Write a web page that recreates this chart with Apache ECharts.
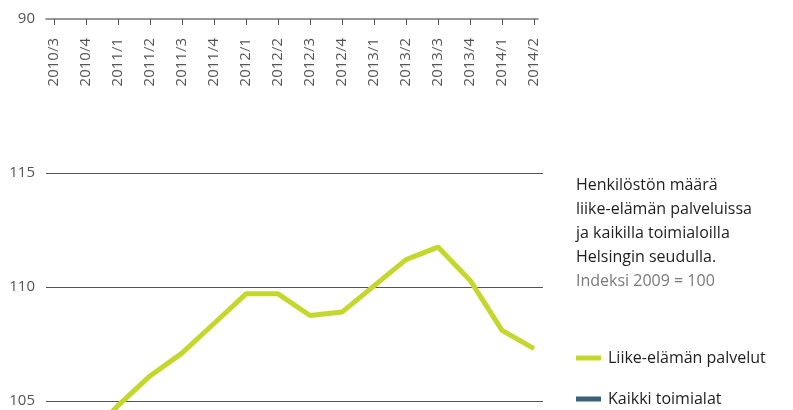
<!DOCTYPE html>
<html>
<head>
<meta charset="utf-8">
<script src="https://cdn.jsdelivr.net/npm/echarts@6/dist/echarts.min.js"></script>
<style>
  html, body { margin: 0; padding: 0; background: #fff; }
  #chart { width: 793px; height: 410px; }
</style>
</head>
<body>
<div id="chart"></div>
<script>
// Quarters on the horizontal axis
const quarters = ['2010/3', '2010/4', '2011/1', '2011/2', '2011/3', '2011/4',
  '2012/1', '2012/2', '2012/3', '2012/4', '2013/1', '2013/2', '2013/3',
  '2013/4', '2014/1', '2014/2'];

// Employment index, 2009 = 100
const liikeElamanPalvelut = [102.4, 103.3, 104.8, 106.1, 107.1, 108.4, 109.7,
  109.7, 108.75, 108.9, 110.05, 111.2, 111.75, 110.3, 108.1, 107.3];
const kaikkiToimialat = [100.5, 100.8, 100.3, 101.0, 101.4, 101.7, 101.1,
  101.5, 101.9, 101.4, 101.2, 101.6, 101.9, 101.4, 100.8, 101.2];

const seriesNames = ['Liike-elämän palvelut', 'Kaikki toimialat'];
const titleLines = ['Henkilöstön määrä', 'liike-elämän palveluissa',
  'ja kaikilla toimialoilla', 'Helsingin seudulla.'];
const subtitle = 'Indeksi 2009 = 100';

// Value ranges shown by the two panels
const lowerRange = { min: 90, max: 100, step: 10 };
const upperRange = { min: 105, max: 115, step: 5 };

const FONT = '"Open Sans", "Noto Sans", sans-serif';
const GREEN = '#c4d72c';
const BLUE = '#3b6079';

const chart = echarts.init(document.getElementById('chart'), null, { renderer: 'canvas' });

chart.setOption({
  animation: false,
  textStyle: { fontFamily: FONT },
  title: {
    text: titleLines.join('\n'),
    subtext: subtitle,
    left: 576,
    top: 173,
    itemGap: 0,
    padding: 0,
    textStyle: { fontFamily: FONT, fontSize: 16, fontWeight: 'normal', color: '#1e1e1e', lineHeight: 24 },
    subtextStyle: { fontFamily: FONT, fontSize: 16, color: '#7a7a7a', lineHeight: 24 }
  },
  legend: {
    data: seriesNames,
    orient: 'vertical',
    left: 576,
    top: 348,
    padding: 0,
    itemGap: 21,
    itemWidth: 25,
    itemHeight: 5,
    icon: 'rect',
    textStyle: { fontFamily: FONT, fontSize: 16, color: '#1e1e1e', lineHeight: 20, padding: [0, 0, 0, 2] }
  },
  grid: [
    // lower panel: axis line at 90
    { left: 46, right: 255, top: 0, bottom: 391 },
    // lower panel: category ticks and labels
    { left: 54, right: 259, top: 0, bottom: 391 },
    // upper panel: gridlines 105–115
    { left: 46, right: 250, top: 173, bottom: 9 },
    // upper panel: data lines
    { left: 54, right: 259, top: 173, bottom: 9 }
  ],
  xAxis: [
    {
      gridIndex: 0, type: 'category', data: quarters, boundaryGap: false,
      axisLine: { show: true, lineStyle: { color: '#777', width: 1.5 } },
      axisTick: { show: false }, axisLabel: { show: false }, splitLine: { show: false }
    },
    {
      gridIndex: 1, type: 'category', data: quarters, boundaryGap: false,
      axisLine: { show: false },
      axisTick: { show: true, length: 6, lineStyle: { color: '#555', width: 1 } },
      axisLabel: { rotate: 90, margin: 19, fontSize: 15, color: '#555', fontFamily: FONT, interval: 0 },
      splitLine: { show: false }
    },
    { gridIndex: 2, type: 'category', data: quarters, show: false },
    { gridIndex: 3, type: 'category', data: quarters, boundaryGap: false, show: false }
  ],
  yAxis: [
    {
      gridIndex: 0, type: 'value', min: lowerRange.min, max: lowerRange.max, interval: lowerRange.step,
      axisLine: { show: false }, axisTick: { show: false }, splitLine: { show: false },
      axisLabel: {
        showMaxLabel: false, showMinLabel: true, hideOverlap: false,
        formatter: (v) => (v === lowerRange.min ? String(v) : ''),
        margin: 11, fontSize: 15, color: '#555', fontFamily: FONT
      }
    },
    { gridIndex: 1, type: 'value', min: lowerRange.min, max: lowerRange.max, show: false },
    {
      gridIndex: 2, type: 'value', min: upperRange.min, max: upperRange.max, interval: upperRange.step,
      axisLine: { show: false }, axisTick: { show: false },
      splitLine: { show: true, lineStyle: { color: '#555', width: 1 } },
      axisLabel: { margin: 11, fontSize: 15, color: '#555', fontFamily: FONT }
    },
    { gridIndex: 3, type: 'value', min: upperRange.min, max: upperRange.max, show: false }
  ],
  series: [
    {
      name: seriesNames[0], type: 'line', xAxisIndex: 3, yAxisIndex: 3,
      data: liikeElamanPalvelut, clip: false, showSymbol: false, symbol: 'none',
      color: GREEN, lineStyle: { color: GREEN, width: 5 }, z: 3
    },
    {
      name: seriesNames[1], type: 'line', xAxisIndex: 3, yAxisIndex: 3,
      data: kaikkiToimialat, clip: false, showSymbol: false, symbol: 'none',
      color: BLUE, lineStyle: { color: BLUE, width: 5 }, z: 2
    }
  ]
});
</script>
</body>
</html>
